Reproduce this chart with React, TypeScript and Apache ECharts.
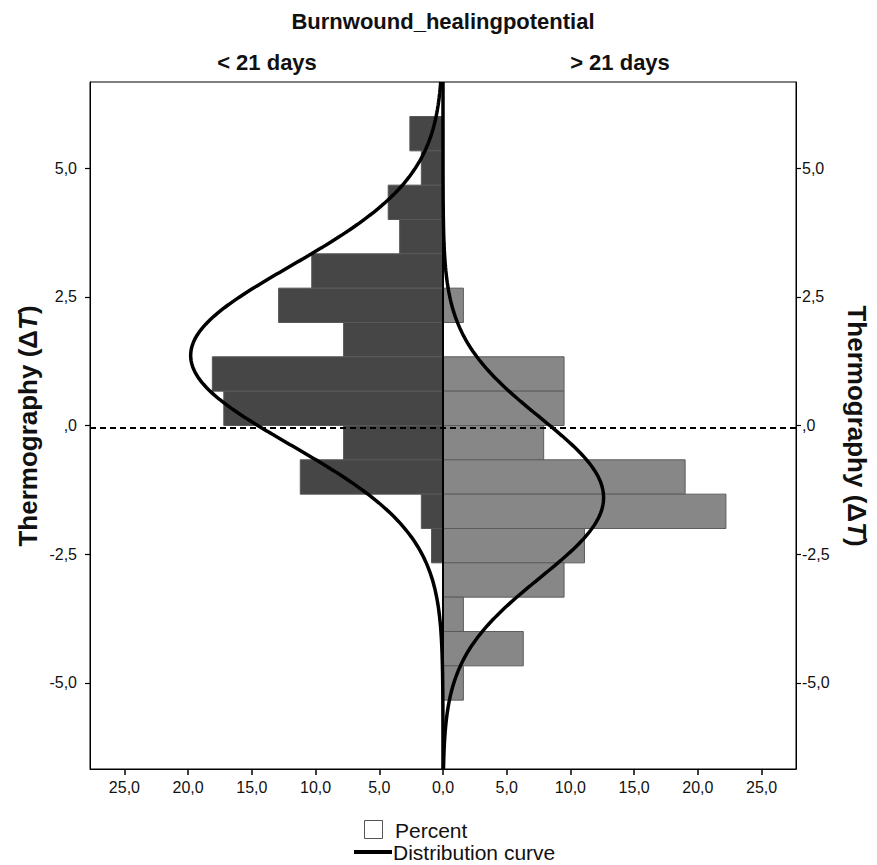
import React, { useEffect, useRef } from "react";
import * as echarts from "echarts";

// Bin lower edges (Thermography ΔT), each bin is 2/3 wide, top to bottom
const binBottoms = [5.333, 4.667, 4.0, 3.333, 2.667, 2.0, 1.333, 0.667, 0.0, -0.667, -1.333, -2.0, -2.667, -3.333, -4.0, -4.667, -5.333];
const binWidth = 0.667;
// Percent per bin
const lessThan21 = [2.6, 1.7, 4.3, 3.4, 10.3, 12.9, 7.8, 18.1, 17.2, 7.8, 11.2, 1.7, 0.9, 0, 0, 0, 0];
const moreThan21 = [0, 0, 0, 0, 0, 1.6, 0, 9.5, 9.5, 7.9, 19.0, 22.2, 11.1, 9.5, 1.6, 6.3, 1.6];

// Fitted normal distribution curves: mean, sd, peak height (percent)
const curveLessMean = 1.36;
const curveLessSd = 1.73;
const curveLessPeak = 19.8;
const curveMoreMean = -1.4;
const curveMoreSd = 1.55;
const curveMorePeak = 12.6;

const xTicks = [-25, -20, -15, -10, -5, 0, 5, 10, 15, 20, 25];
const yTicks = [-5, -2.5, 0, 2.5, 5];
const refLineY = -0.05;

const X_MAX = 27.7;
const Y_MAX = 6.67;

const FONT = "'Liberation Sans', Arial, sans-serif";

function normalCurve(mean: number, sd: number, peak: number, sign: number) {
  const pts: number[][] = [];
  const n = 400;
  for (let i = 0; i <= n; i++) {
    const y = -Y_MAX + (2 * Y_MAX * i) / n;
    const z = (y - mean) / sd;
    pts.push([sign * peak * Math.exp(-0.5 * z * z), y]);
  }
  return pts;
}

function fmt(v: number) {
  return v.toFixed(1).replace(".", ",");
}

export default function App() {
  const ref = useRef<HTMLDivElement>(null);
  useEffect(() => {
    if (!ref.current) return;
    const chart = echarts.init(ref.current, undefined, { renderer: "svg" });

    const barData: any[] = [];
    binBottoms.forEach((b, i) => {
      if (lessThan21[i] > 0) barData.push({ value: [-lessThan21[i], b, b + binWidth], itemStyle: { color: "#464646", borderColor: "#585858" } });
      if (moreThan21[i] > 0) barData.push({ value: [moreThan21[i], b, b + binWidth], itemStyle: { color: "#878787", borderColor: "#5c5c5c" } });
    });

    const axisLabelStyle = { color: "#111", fontSize: 16, fontFamily: FONT };

    const option: any = {
      animation: false,
      backgroundColor: "#fff",
      grid: { left: 90, top: 82, width: 706, height: 687, show: true, borderColor: "#000", borderWidth: 1, containLabel: false },
      xAxis: {
        type: "value",
        min: -X_MAX,
        max: X_MAX,
        splitLine: { show: false },
        axisLine: { show: true, onZero: false, lineStyle: { color: "#000", width: 1 } },
        axisTick: { show: true, length: 6, customValues: xTicks, lineStyle: { color: "#000", width: 1.5 } },
        axisLabel: { ...axisLabelStyle, margin: 10, customValues: xTicks, formatter: (v: number) => fmt(Math.abs(v)) },
      },
      yAxis: [
        {
          type: "value",
          min: -Y_MAX,
          max: Y_MAX,
          position: "left",
          splitLine: { show: false },
          axisLine: { show: true, onZero: false, lineStyle: { color: "#000" } },
          axisTick: { show: true, length: 5, customValues: yTicks, lineStyle: { color: "#000", width: 1.2 } },
          axisLabel: { ...axisLabelStyle, margin: 13, customValues: yTicks, formatter: (v: number) => (v === 0 ? ",0" : fmt(v)) },
        },
        {
          type: "value",
          min: -Y_MAX,
          max: Y_MAX,
          position: "right",
          splitLine: { show: false },
          axisLine: { show: true, onZero: false, lineStyle: { color: "#000" } },
          axisTick: { show: true, length: 5, customValues: yTicks, lineStyle: { color: "#000", width: 1.2 } },
          axisLabel: { ...axisLabelStyle, margin: 6, customValues: yTicks, formatter: (v: number) => (v === 0 ? ",0" : fmt(v)) },
        },
      ],
      series: [
        {
          type: "custom",
          z: 2,
          encode: { x: 0, y: [1, 2] },
          renderItem: (params: any, api: any) => {
            const v = api.value(0);
            const p1 = api.coord([v, api.value(2)]);
            const p0 = api.coord([0, api.value(1)]);
            const x = Math.min(p0[0], p1[0]);
            const w = Math.abs(p1[0] - p0[0]);
            return {
              type: "rect",
              shape: { x, y: p1[1], width: w, height: p0[1] - p1[1] },
              style: { fill: api.visual("color"), stroke: barData[params.dataIndex].itemStyle.borderColor, lineWidth: 1 },
            };
          },
          data: barData,
        },
        {
          type: "line",
          z: 3,
          symbol: "none",
          silent: true,
          data: [],
          markLine: {
            silent: true,
            symbol: "none",
            label: { show: false },
            data: [
              { xAxis: 0, lineStyle: { color: "#000", width: 2, type: "solid" } },
              { yAxis: refLineY, lineStyle: { color: "#000", width: 2, type: [6, 4] } },
            ],
          },
        },
        {
          type: "line",
          z: 4,
          symbol: "none",
          smooth: false,
          lineStyle: { color: "#000", width: 3.5 },
          data: normalCurve(curveLessMean, curveLessSd, curveLessPeak, -1),
        },
        {
          type: "line",
          z: 4,
          symbol: "none",
          smooth: false,
          lineStyle: { color: "#000", width: 3.5 },
          data: normalCurve(curveMoreMean, curveMoreSd, curveMorePeak, 1),
        },
      ],
      graphic: [
        { type: "text", x: 443, y: 21, style: { text: "Burnwound_healingpotential", font: `bold 22px ${FONT}`, fill: "#111", textAlign: "center", textVerticalAlign: "middle" } },
        { type: "text", x: 267, y: 62, style: { text: "< 21 days", font: `bold 22px ${FONT}`, fill: "#111", textAlign: "center", textVerticalAlign: "middle" } },
        { type: "text", x: 620, y: 62, style: { text: "> 21 days", font: `bold 22px ${FONT}`, fill: "#111", textAlign: "center", textVerticalAlign: "middle" } },
        {
          type: "text", x: 28, y: 426, rotation: Math.PI / 2,
          style: { text: "Thermography (Δ{i|T})", font: `bold 26px ${FONT}`, fill: "#111", textAlign: "center", textVerticalAlign: "middle", rich: { i: { font: `italic bold 26px ${FONT}`, fill: "#111" } } },
        },
        {
          type: "text", x: 857, y: 426, rotation: -Math.PI / 2,
          style: { text: "Thermography (Δ{i|T})", font: `bold 26px ${FONT}`, fill: "#111", textAlign: "center", textVerticalAlign: "middle", rich: { i: { font: `italic bold 26px ${FONT}`, fill: "#111" } } },
        },
        { type: "rect", shape: { x: 364.5, y: 820.5, width: 18, height: 18 }, style: { fill: "#fff", stroke: "#555", lineWidth: 1 } },
        { type: "text", x: 395, y: 830, style: { text: "Percent", font: `21px ${FONT}`, fill: "#111", textAlign: "left", textVerticalAlign: "middle" } },
        { type: "line", shape: { x1: 354, y1: 852, x2: 392, y2: 852 }, style: { stroke: "#000", lineWidth: 4 } },
        { type: "text", x: 393, y: 852, style: { text: "Distribution curve", font: `21px ${FONT}`, fill: "#111", textAlign: "left", textVerticalAlign: "middle" } },
      ],
    };
    chart.setOption(option);
    return () => chart.dispose();
  }, []);
  return <div ref={ref} style={{ position: "fixed", left: 0, top: 0, width: 877, height: 865, background: "#fff" }} />;
}
